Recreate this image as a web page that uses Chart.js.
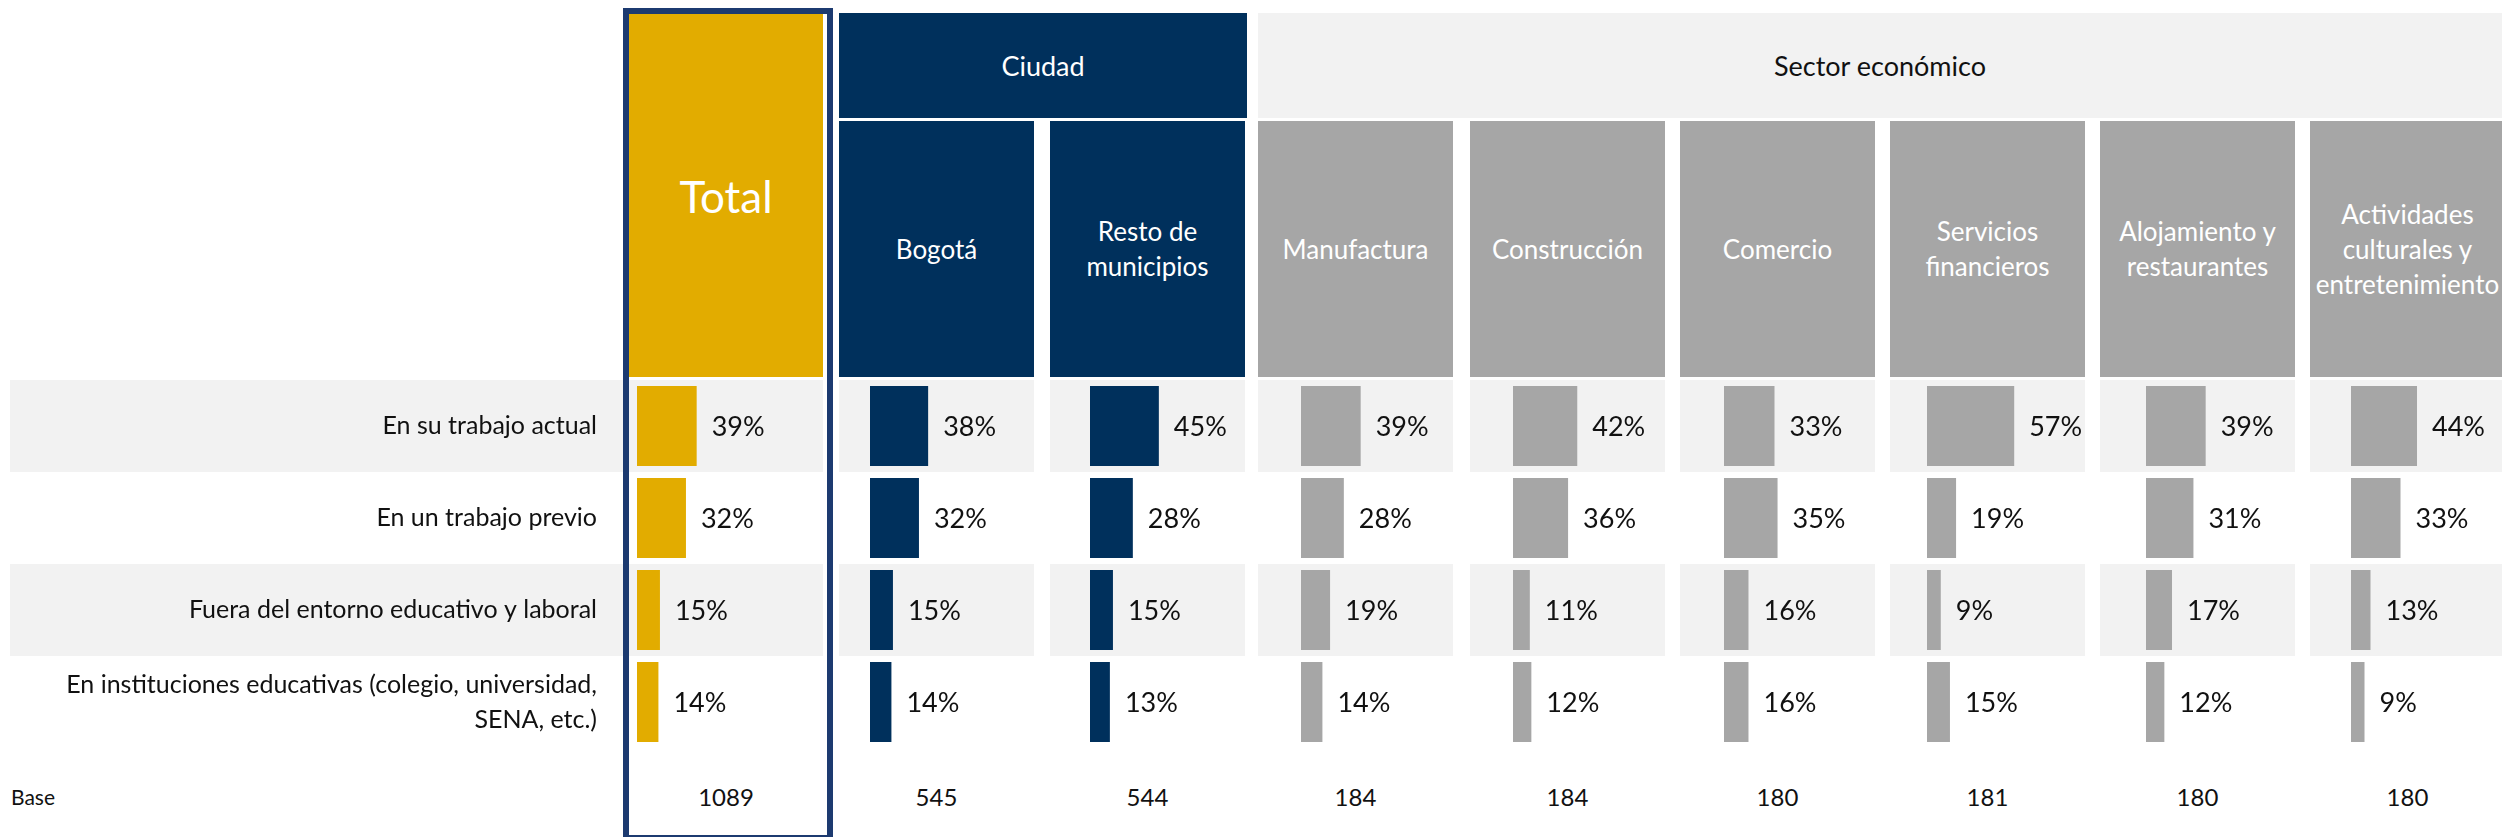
<!DOCTYPE html>
<html>
<head>
<meta charset="utf-8">
<script src="https://cdn.jsdelivr.net/npm/chart.js@4"></script>
<style>
  body { margin: 0; width: 2502px; height: 837px; overflow: hidden; background: #fff; font-family: Lato, sans-serif; position: relative; }
  .box { position: absolute; display: flex; align-items: center; justify-content: center; text-align: center; white-space: nowrap; }
  .sub { font-size: 26px; line-height: 35px; color: #fff; }
  canvas { position: absolute; }
  .base { position: absolute; top: 779px; height: 36px; line-height: 36px; font-size: 24px; text-align: center; color: #111; }
</style>
</head>
<body>
<div id="page"></div>
<script>
// answer rows
const rows = [
    'En su trabajo actual',
    'En un trabajo previo',
    'Fuera del entorno educativo y laboral',
    ['En instituciones educativas (colegio, universidad,', 'SENA, etc.)']
];

// column headers
const columns = ['Total', 'Bogotá', 'Resto de<br>municipios', 'Manufactura', 'Construcción', 'Comercio',
    'Servicios<br>financieros', 'Alojamiento y<br>restaurantes', 'Actividades<br>culturales y<br>entretenimiento'];

// % per column
const total = [39, 32, 15, 14];
const bogota = [38, 32, 15, 14];
const resto = [45, 28, 15, 13];
const manufactura = [39, 28, 19, 14];
const construccion = [42, 36, 11, 12];
const comercio = [33, 35, 16, 16];
const servicios = [57, 19, 9, 15];
const alojamiento = [39, 31, 17, 12];
const actividades = [44, 33, 13, 9];
const series = [total, bogota, resto, manufactura, construccion, comercio, servicios, alojamiento, actividades];

// base (n)
const bases = [1089, 545, 544, 184, 184, 180, 181, 180, 180];

// layout
const colLeft = [629, 839, 1050, 1258, 1470, 1680, 1890, 2100, 2310];
const barStart = [8, 31, 40, 43, 43, 44, 37, 46, 41];
const colW = 195;
const pxPerPct = 1.53;
const GOLD = '#E2AC00', NAVY = '#00305C', GRAY = '#A6A6A6', LIGHT = '#F2F2F2';
const colColor = [GOLD, NAVY, NAVY, GRAY, GRAY, GRAY, GRAY, GRAY, GRAY];

Chart.defaults.font.family = 'Lato';

const page = document.getElementById('page');

function addBox(left, top, w, h, bg, html, cls, style) {
    const d = document.createElement('div');
    d.className = 'box ' + (cls || '');
    d.style.cssText = `left:${left}px;top:${top}px;width:${w}px;height:${h}px;background:${bg};` + (style || '');
    d.innerHTML = html;
    page.appendChild(d);
    return d;
}

// group headers
addBox(839, 13, 408, 105, NAVY, 'Ciudad', '', 'color:#fff;font-size:27px;');
addBox(1258, 13, 1244, 105, LIGHT, 'Sector económico', '', 'color:#111;font-size:27px;');

// column headers
addBox(629, 14, 194, 363, GOLD, columns[0], '', 'color:#fff;font-size:44px;');
for (let i = 1; i < columns.length; i++) {
    addBox(colLeft[i], 121, colW, 256, colColor[i], columns[i], 'sub');
}

// grey band behind rows 1 and 3
const rowBands = {
    id: 'rowBands',
    beforeDraw(chart) {
        const y = chart.scales.y;
        const half = (y.getPixelForValue(1) - y.getPixelForValue(0)) / 2;
        const ctx = chart.ctx;
        ctx.save();
        ctx.fillStyle = LIGHT;
        for (let i = 0; i < rows.length; i += 2) {
            const c = y.getPixelForValue(i);
            ctx.fillRect(0, c - half, chart.width, half * 2);
        }
        ctx.restore();
    }
};

// % labels after each bar
const pctLabels = {
    id: 'pctLabels',
    afterDatasetsDraw(chart) {
        const ctx = chart.ctx;
        const ds = chart.data.datasets[0];
        ctx.save();
        ctx.font = '27px Lato';
        ctx.fillStyle = '#111';
        ctx.textAlign = 'left';
        ctx.textBaseline = 'middle';
        chart.getDatasetMeta(0).data.forEach((bar, i) => {
            ctx.fillText(ds.data[i] + '%', bar.x + 15, bar.y + 1);
        });
        ctx.restore();
    }
};

series.forEach((data, i) => {
    const cv = document.createElement('canvas');
    const isTotal = i === 0;
    const left = isTotal ? 10 : colLeft[i];
    const width = isTotal ? colLeft[0] + 194 - 10 : Math.min(colW, 2502 - colLeft[i]);
    cv.width = width;
    cv.height = 368;
    cv.style.left = left + 'px';
    cv.style.top = '380px';
    page.appendChild(cv);

    const areaW = isTotal ? 194 - barStart[0] : colW - barStart[i];

    new Chart(cv, {
        type: 'bar',
        data: {
            labels: rows,
            datasets: [{
                data: data,
                backgroundColor: colColor[i],
                categoryPercentage: 1,
                barPercentage: 0.87
            }]
        },
        options: {
            indexAxis: 'y',
            responsive: false,
            animation: false,
            layout: { padding: { left: isTotal ? 0 : barStart[i], right: 0, top: 0, bottom: 0 } },
            plugins: { legend: { display: false }, tooltip: { enabled: false } },
            scales: {
                x: { min: 0, max: areaW / pxPerPct, display: false },
                y: {
                    display: isTotal,
                    grid: { display: false },
                    border: { display: false },
                    ticks: { color: '#111', font: { size: 25, lineHeight: 1.4 }, padding: 32 },
                    afterFit: function (s) {
                        if (!isTotal) return;
                        s.width = colLeft[0] + barStart[0] - 10;
                        s.paddingTop = 0;
                        s.paddingBottom = 0;
                    }
                }
            }
        },
        plugins: [rowBands, pctLabels]
    });
});

// base row
const b = document.createElement('div');
b.className = 'base';
b.style.cssText += 'left:11px;font-size:21px;text-align:left;';
b.textContent = 'Base';
page.appendChild(b);
bases.forEach((n, i) => {
    const d = document.createElement('div');
    d.className = 'base';
    d.style.left = colLeft[i] + 'px';
    d.style.width = (i === 0 ? 194 : colW) + 'px';
    d.textContent = n;
    page.appendChild(d);
});

// outline around the Total column
addBox(623, 8, 210, 833, 'transparent', '', '', 'border:6px solid #1C3A70;box-sizing:border-box;');
</script>
</body>
</html>
